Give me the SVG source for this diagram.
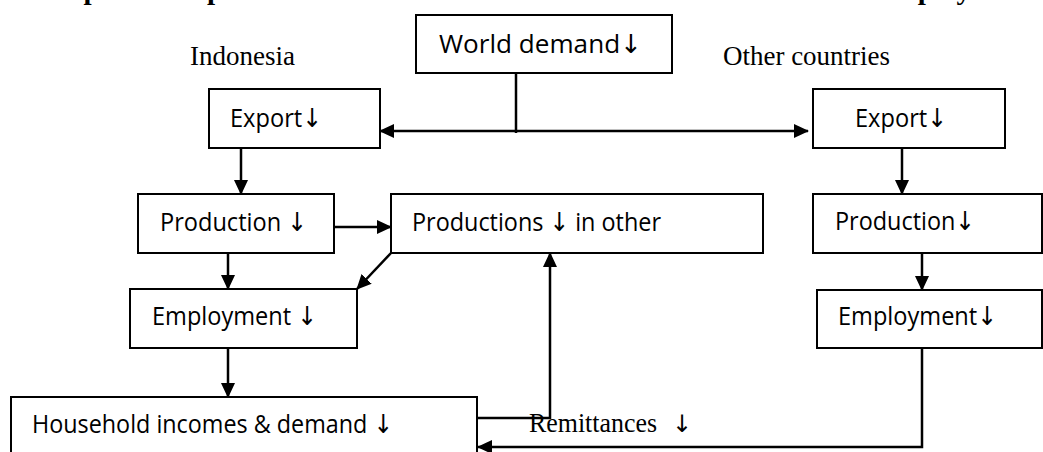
<svg xmlns="http://www.w3.org/2000/svg" width="1043" height="452" viewBox="0 0 1043 452">
<style>
.box{fill:#fff;stroke:#000;stroke-width:2}
.lbl{font-family:"Open Sans","DejaVu Sans",sans-serif;font-size:26px;fill:#000}
.ser{font-family:"Liberation Serif","DejaVu Serif",serif;font-size:28px;fill:#000}
.con{fill:none;stroke:#000;stroke-width:2.5}
</style>
<defs>
<marker id="ah" markerUnits="userSpaceOnUse" markerWidth="15" markerHeight="14" refX="14" refY="7" orient="auto">
<path d="M0,0 L15,7 L0,14 z" fill="#000"/>
</marker>
</defs>
<rect width="1043" height="452" fill="#fff"/>
<text x="-6" y="-1" font-family="Liberation Serif,serif" font-weight="bold" font-size="27" textLength="1040" lengthAdjust="spacingAndGlyphs">The Expected Impact of the Global Economic Crisis on the Indonesian Employment</text>
<text class="ser" x="190" y="65" textLength="105" lengthAdjust="spacingAndGlyphs">Indonesia</text>
<text class="ser" x="723" y="65" textLength="167" lengthAdjust="spacingAndGlyphs">Other countries</text>
<g id="connectors">
<path class="con" d="M516,73 V133"/>
<path class="con" d="M516,131 H380" marker-end="url(#ah)"/>
<path class="con" d="M516,131 H808" marker-end="url(#ah)"/>
<path class="con" d="M241,148 V194" marker-end="url(#ah)"/>
<path class="con" d="M334,227 H391" marker-end="url(#ah)"/>
<path class="con" d="M228,253 V289" marker-end="url(#ah)"/>
<path class="con" d="M391,253 L357,289" marker-end="url(#ah)"/>
<path class="con" d="M228,348 V397" marker-end="url(#ah)"/>
<path class="con" d="M477,418 H550 V253" marker-end="url(#ah)"/>
<path class="con" d="M902,148 V194" marker-end="url(#ah)"/>
<path class="con" d="M922,253 V290" marker-end="url(#ah)"/>
<path class="con" d="M922,348 V447 H478" marker-end="url(#ah)"/>
</g>
<g id="world"><rect class="box" x="416" y="15" width="256" height="58"/><text class="lbl" x="439" y="53" textLength="203" lengthAdjust="spacingAndGlyphs">World demand↓</text></g>
<g id="exportL"><rect class="box" x="209" y="89" width="171" height="59"/><text class="lbl" x="230" y="127" textLength="92" lengthAdjust="spacingAndGlyphs">Export↓</text></g>
<g id="exportR"><rect class="box" x="813" y="89" width="192" height="59"/><text class="lbl" x="855" y="127" textLength="92" lengthAdjust="spacingAndGlyphs">Export↓</text></g>
<g id="prodL"><rect class="box" x="138" y="194" width="196" height="59"/><text class="lbl" x="160" y="231" textLength="147" lengthAdjust="spacingAndGlyphs">Production ↓</text></g>
<g id="prodOther"><rect class="box" x="391" y="194" width="372" height="59"/><text class="lbl" x="412" y="231" textLength="249" lengthAdjust="spacingAndGlyphs">Productions ↓ in other</text></g>
<g id="prodR"><rect class="box" x="813" y="194" width="229" height="59"/><text class="lbl" x="835" y="230" textLength="140" lengthAdjust="spacingAndGlyphs">Production↓</text></g>
<g id="empL"><rect class="box" x="130" y="289" width="227" height="59"/><text class="lbl" x="152" y="325" textLength="165" lengthAdjust="spacingAndGlyphs">Employment ↓</text></g>
<g id="empR"><rect class="box" x="817" y="290" width="225" height="58"/><text class="lbl" x="838" y="325" textLength="159" lengthAdjust="spacingAndGlyphs">Employment↓</text></g>
<g id="household"><rect class="box" x="11" y="397" width="466" height="80"/><text class="lbl" x="32" y="433" textLength="361" lengthAdjust="spacingAndGlyphs">Household incomes &amp; demand ↓</text></g>
<g id="remit"><text class="ser" x="529" y="432" textLength="128" lengthAdjust="spacingAndGlyphs">Remittances</text><text x="672" y="432" font-family="DejaVu Sans,sans-serif" font-size="24" fill="#000">↓</text></g>
</svg>
